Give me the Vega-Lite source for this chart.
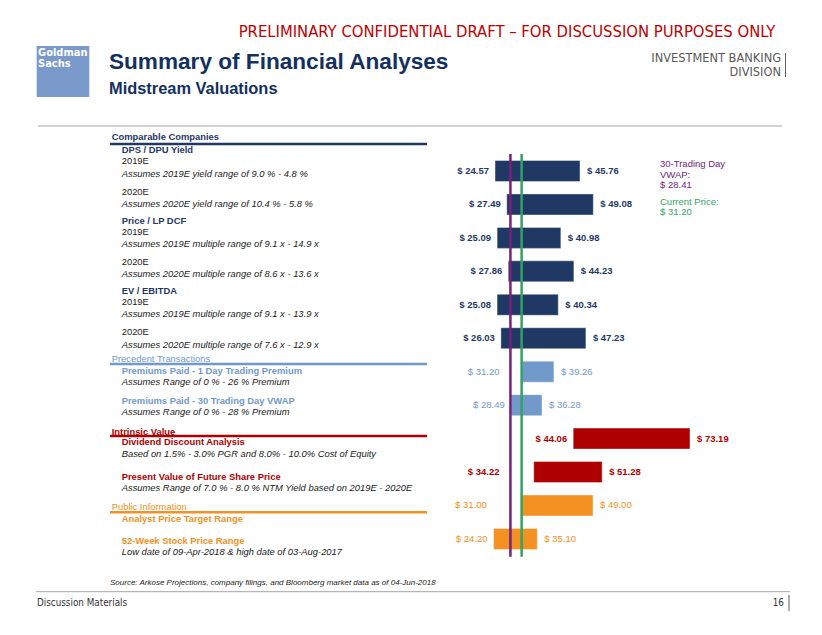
{
  "$schema": "https://vega.github.io/schema/vega-lite/v6.json",
  "width": 822,
  "height": 635,
  "autosize": "none",
  "padding": 0,
  "background": "#ffffff",
  "config": {"view": {"stroke": null}},
  "datasets": {
    "bars": [
      {"row": 1, "g": "comparable", "name": "DPS / DPU Yield 2019E", "low": 24.57, "high": 45.76},
      {"row": 2, "g": "comparable", "name": "DPS / DPU Yield 2020E", "low": 27.49, "high": 49.08},
      {"row": 3, "g": "comparable", "name": "Price / LP DCF 2019E", "low": 25.09, "high": 40.98},
      {"row": 4, "g": "comparable", "name": "Price / LP DCF 2020E", "low": 27.86, "high": 44.23},
      {"row": 5, "g": "comparable", "name": "EV / EBITDA 2019E", "low": 25.08, "high": 40.34},
      {"row": 6, "g": "comparable", "name": "EV / EBITDA 2020E", "low": 26.03, "high": 47.23},
      {"row": 7, "g": "precedent", "name": "Premiums Paid - 1 Day Trading Premium", "low": 31.20, "high": 39.26},
      {"row": 8, "g": "precedent", "name": "Premiums Paid - 30 Trading Day VWAP", "low": 28.49, "high": 36.28},
      {"row": 9, "g": "intrinsic", "name": "Dividend Discount Analysis", "low": 44.06, "high": 73.19},
      {"row": 10, "g": "intrinsic", "name": "Present Value of Future Share Price", "low": 34.22, "high": 51.28},
      {"row": 11, "g": "public", "name": "Analyst Price Target Range", "low": 31.00, "high": 49.00},
      {"row": 12, "g": "public", "name": "52-Week Stock Price Range", "low": 24.20, "high": 35.10}
    ],
    "refs": [
      {"label": "30-Trading Day VWAP", "value": 28.41, "g": "vwap"},
      {"label": "Current Price", "value": 31.20, "g": "current"}
    ],
    "shapes": [
      {"k": "logo", "g": "logo", "x": -89.73, "x2": -76.61, "y": -2.737, "y2": -1.212}
    ],
    "lines": [
      {"k": "hsec", "g": "comparable", "x": -71.45, "x2": 7.61, "y": 0.193},
      {"k": "hsec", "g": "precedent", "x": -71.45, "x2": 7.61, "y": 6.770},
      {"k": "hsec", "g": "intrinsic", "x": -71.45, "x2": 7.61, "y": 8.922},
      {"k": "hsec", "g": "public", "x": -71.45, "x2": 7.61, "y": 11.203},
      {"k": "hthin", "g": "rule", "x": -89.40, "x2": 96.13, "y": -0.345},
      {"k": "hthin", "g": "rule", "x": -89.90, "x2": 98.13, "y": 13.577},
      {"k": "vthin", "g": "gray", "x": 97.01, "y": -2.528, "y2": -1.810},
      {"k": "vthin", "g": "gray", "x": 97.88, "y": 13.675, "y2": 14.154}
    ],
    "texts": [
      {"s": "hdr", "g": "header", "x": 27.56, "y": -3.146, "t": "PRELIMINARY CONFIDENTIAL DRAFT – FOR DISCUSSION PURPOSES ONLY"},
      {"s": "title", "g": "title", "x": -71.70, "y": -2.268, "t": "Summary of Financial Analyses"},
      {"s": "subtitle", "g": "title", "x": -71.70, "y": -1.442, "t": "Midstream Valuations"},
      {"s": "ibd", "g": "gray", "x": 95.89, "y": -2.369, "t": "INVESTMENT BANKING"},
      {"s": "ibd", "g": "gray", "x": 95.89, "y": -1.951, "t": "DIVISION"},
      {"s": "logo", "g": "white", "x": -89.4, "y": -2.526, "t": "Goldman"},
      {"s": "logo", "g": "white", "x": -89.4, "y": -2.184, "t": "Sachs"},
      {"s": "h", "g": "comparable", "x": -71.02, "y": -0.025, "t": "Comparable Companies"},
      {"s": "h", "g": "comparable", "x": -68.53, "y": 0.363, "t": "DPS / DPU Yield"},
      {"s": "r", "g": "note", "x": -68.53, "y": 0.701, "t": "2019E"},
      {"s": "i", "g": "note", "x": -68.53, "y": 1.081, "t": "Assumes 2019E yield range of 9.0 % - 4.8 %"},
      {"s": "r", "g": "note", "x": -68.53, "y": 1.619, "t": "2020E"},
      {"s": "i", "g": "note", "x": -68.53, "y": 1.987, "t": "Assumes 2020E yield range of 10.4 % - 5.8 %"},
      {"s": "h", "g": "comparable", "x": -68.53, "y": 2.495, "t": "Price / LP DCF"},
      {"s": "r", "g": "note", "x": -68.53, "y": 2.814, "t": "2019E"},
      {"s": "i", "g": "note", "x": -68.53, "y": 3.173, "t": "Assumes 2019E multiple range of 9.1 x - 14.9 x"},
      {"s": "r", "g": "note", "x": -68.53, "y": 3.711, "t": "2020E"},
      {"s": "i", "g": "note", "x": -68.53, "y": 4.070, "t": "Assumes 2020E multiple range of 8.6 x - 13.6 x"},
      {"s": "h", "g": "comparable", "x": -68.53, "y": 4.588, "t": "EV / EBITDA"},
      {"s": "r", "g": "note", "x": -68.53, "y": 4.925, "t": "2019E"},
      {"s": "i", "g": "note", "x": -68.53, "y": 5.275, "t": "Assumes 2019E multiple range of 9.1 x - 13.9 x"},
      {"s": "r", "g": "note", "x": -68.53, "y": 5.822, "t": "2020E"},
      {"s": "i", "g": "note", "x": -68.53, "y": 6.202, "t": "Assumes 2020E multiple range of 7.6 x - 12.9 x"},
      {"s": "r", "g": "precedent", "x": -71.02, "y": 6.630, "t": "Precedent Transactions"},
      {"s": "h", "g": "precedent", "x": -68.53, "y": 6.970, "t": "Premiums Paid - 1 Day Trading Premium"},
      {"s": "i", "g": "note", "x": -68.53, "y": 7.317, "t": "Assumes Range of 0 % -  26 % Premium"},
      {"s": "h", "g": "precedent", "x": -68.53, "y": 7.867, "t": "Premiums Paid - 30 Trading Day VWAP"},
      {"s": "i", "g": "note", "x": -68.53, "y": 8.214, "t": "Assumes Range of 0 % -  28 % Premium"},
      {"s": "h", "g": "intrinsic", "x": -71.02, "y": 8.794, "t": "Intrinsic Value"},
      {"s": "h", "g": "intrinsic", "x": -68.53, "y": 9.111, "t": "Dividend Discount Analysis"},
      {"s": "i", "g": "note", "x": -68.53, "y": 9.470, "t": "Based on 1.5% - 3.0% PGR and 8.0% - 10.0% Cost of Equity"},
      {"s": "h", "g": "intrinsic", "x": -68.53, "y": 10.148, "t": "Present Value of Future Share Price"},
      {"s": "i", "g": "note", "x": -68.53, "y": 10.486, "t": "Assumes Range of 7.0 % -  8.0 % NTM Yield based on 2019E - 2020E"},
      {"s": "r", "g": "public", "x": -71.02, "y": 11.054, "t": "Public Information"},
      {"s": "h", "g": "public", "x": -68.53, "y": 11.395, "t": "Analyst Price Target Range"},
      {"s": "h", "g": "public", "x": -68.53, "y": 12.061, "t": "52-Week Stock Price Range"},
      {"s": "i", "g": "note", "x": -68.53, "y": 12.399, "t": "Low date of 09-Apr-2018 & high date of 03-Aug-2017"},
      {"s": "src", "g": "note", "x": -71.45, "y": 13.308, "t": "Source: Arkose Projections, company filings, and Bloomberg market data as of 04-Jun-2018"},
      {"s": "foot", "g": "foot", "x": -89.65, "y": 13.924, "t": "Discussion Materials"},
      {"s": "footr", "g": "foot", "x": 96.63, "y": 13.924, "t": "16"},
      {"s": "ann", "g": "vwap", "x": 65.71, "y": 0.791, "t": "30-Trading Day"},
      {"s": "ann", "g": "vwap", "x": 65.71, "y": 1.120, "t": "VWAP:"},
      {"s": "ann", "g": "vwap", "x": 65.71, "y": 1.428, "t": "$ 28.41"},
      {"s": "ann", "g": "current", "x": 65.71, "y": 1.918, "t": "Current Price:"},
      {"s": "ann", "g": "current", "x": 65.71, "y": 2.235, "t": "$ 31.20"}
    ]
  },
  "encoding": {
    "x": {"field": "x", "type": "quantitative", "scale": {"domain": [-98.88, 106.11], "nice": false, "zero": false, "padding": 0}, "axis": null},
    "y": {"field": "y", "type": "quantitative", "scale": {"domain": [-4.112, 14.872], "reverse": true, "nice": false, "zero": false, "padding": 0}, "axis": null},
    "color": {"field": "g", "type": "nominal", "legend": null, "scale": {
      "domain": ["comparable", "precedent", "intrinsic", "public", "note", "vwap", "current", "header", "title", "gray", "white", "logo", "rule", "foot"],
      "range": ["#1F3864", "#7199C9", "#AE0000", "#F39123", "#1A1A1A", "#74227A", "#34A165", "#C00000", "#14305F", "#595959", "#FFFFFF", "#7A9ACC", "#A6A6A6", "#333333"]}}
  },
  "layer": [
    {
      "data": {"name": "shapes"},
      "mark": {"type": "rect"},
      "encoding": {"x2": {"field": "x2"}, "y2": {"field": "y2"}}
    },
    {
      "data": {"name": "bars"},
      "mark": {"type": "bar", "orient": "horizontal", "size": 21, "stroke": "#ffffff", "strokeOpacity": 0.4, "strokeWidth": 1},
      "encoding": {
        "x": {"field": "low", "type": "quantitative"},
        "x2": {"field": "high"},
        "y": {"field": "row", "type": "quantitative"}
      }
    },
    {
      "data": {"name": "refs"},
      "transform": [
        {"calculate": "0.492", "as": "top"},
        {"calculate": "12.531", "as": "bottom"}
      ],
      "mark": {"type": "rule", "strokeWidth": 2.5},
      "encoding": {
        "x": {"field": "value", "type": "quantitative"},
        "y": {"field": "top", "type": "quantitative"},
        "y2": {"field": "bottom"}
      }
    },
    {
      "data": {"name": "lines"},
      "transform": [{"filter": "datum.k == 'hsec'"}],
      "mark": {"type": "rule", "strokeWidth": 2.5},
      "encoding": {"x2": {"field": "x2"}}
    },
    {
      "data": {"name": "lines"},
      "transform": [{"filter": "datum.k == 'hthin'"}],
      "mark": {"type": "rule", "strokeWidth": 1},
      "encoding": {"x2": {"field": "x2"}}
    },
    {
      "data": {"name": "lines"},
      "transform": [{"filter": "datum.k == 'vthin'"}],
      "mark": {"type": "rule", "strokeWidth": 1},
      "encoding": {"y2": {"field": "y2"}}
    },
    {
      "data": {"name": "bars"},
      "transform": [
        {"filter": "datum.g == 'comparable' || datum.g == 'intrinsic'"},
        {"calculate": "'$ ' + format(datum.low, '.2f')", "as": "lt"},
        {"calculate": "(datum.low > 29 && datum.low < 37) ? (datum.g == 'public' ? 24.0 : 27.2) : datum.low", "as": "lx"}
      ],
      "mark": {"type": "text", "align": "right", "baseline": "middle", "dx": -6, "font": "Liberation Sans", "fontSize": 9.5, "fontWeight": "bold"},
      "encoding": {"x": {"field": "lx", "type": "quantitative"}, "y": {"field": "row", "type": "quantitative"}, "text": {"field": "lt"}}
    },
    {
      "data": {"name": "bars"},
      "transform": [
        {"filter": "datum.g == 'precedent' || datum.g == 'public'"},
        {"calculate": "'$ ' + format(datum.low, '.2f')", "as": "lt"},
        {"calculate": "(datum.low > 29 && datum.low < 37) ? (datum.g == 'public' ? 24.0 : 27.2) : datum.low", "as": "lx"}
      ],
      "mark": {"type": "text", "align": "right", "baseline": "middle", "dx": -6, "font": "Liberation Sans", "fontSize": 9.5},
      "encoding": {"x": {"field": "lx", "type": "quantitative"}, "y": {"field": "row", "type": "quantitative"}, "text": {"field": "lt"}}
    },
    {
      "data": {"name": "bars"},
      "transform": [
        {"filter": "datum.g == 'comparable' || datum.g == 'intrinsic'"},
        {"calculate": "'$ ' + format(datum.high, '.2f')", "as": "ht"}
      ],
      "mark": {"type": "text", "align": "left", "baseline": "middle", "dx": 7, "font": "Liberation Sans", "fontSize": 9.5, "fontWeight": "bold"},
      "encoding": {"x": {"field": "high", "type": "quantitative"}, "y": {"field": "row", "type": "quantitative"}, "text": {"field": "ht"}}
    },
    {
      "data": {"name": "bars"},
      "transform": [
        {"filter": "datum.g == 'precedent' || datum.g == 'public'"},
        {"calculate": "'$ ' + format(datum.high, '.2f')", "as": "ht"}
      ],
      "mark": {"type": "text", "align": "left", "baseline": "middle", "dx": 7, "font": "Liberation Sans", "fontSize": 9.5},
      "encoding": {"x": {"field": "high", "type": "quantitative"}, "y": {"field": "row", "type": "quantitative"}, "text": {"field": "ht"}}
    },
    {
      "data": {"name": "texts"},
      "transform": [{"filter": "datum.s == 'hdr'"}],
      "mark": {"type": "text", "align": "center", "baseline": "middle", "font": "DejaVu Sans Condensed, sans-serif", "fontSize": 16.5},
      "encoding": {"text": {"field": "t"}}
    },
    {
      "data": {"name": "texts"},
      "transform": [{"filter": "datum.s == 'title'"}],
      "mark": {"type": "text", "align": "left", "baseline": "middle", "font": "Liberation Sans", "fontSize": 22.6, "fontWeight": "bold"},
      "encoding": {"text": {"field": "t"}}
    },
    {
      "data": {"name": "texts"},
      "transform": [{"filter": "datum.s == 'subtitle'"}],
      "mark": {"type": "text", "align": "left", "baseline": "middle", "font": "Liberation Sans", "fontSize": 16.4, "fontWeight": "bold"},
      "encoding": {"text": {"field": "t"}}
    },
    {
      "data": {"name": "texts"},
      "transform": [{"filter": "datum.s == 'ibd'"}],
      "mark": {"type": "text", "align": "right", "baseline": "middle", "font": "DejaVu Sans Condensed, sans-serif", "fontSize": 12.7},
      "encoding": {"text": {"field": "t"}}
    },
    {
      "data": {"name": "texts"},
      "transform": [{"filter": "datum.s == 'logo'"}],
      "mark": {"type": "text", "align": "left", "baseline": "middle", "font": "DejaVu Sans Condensed, sans-serif", "fontSize": 11, "fontWeight": "bold"},
      "encoding": {"text": {"field": "t"}}
    },
    {
      "data": {"name": "texts"},
      "transform": [{"filter": "datum.s == 'h'"}],
      "mark": {"type": "text", "align": "left", "baseline": "middle", "font": "Liberation Sans", "fontSize": 9.4, "fontWeight": "bold"},
      "encoding": {"text": {"field": "t"}}
    },
    {
      "data": {"name": "texts"},
      "transform": [{"filter": "datum.s == 'r'"}],
      "mark": {"type": "text", "align": "left", "baseline": "middle", "font": "Liberation Sans", "fontSize": 9.4},
      "encoding": {"text": {"field": "t"}}
    },
    {
      "data": {"name": "texts"},
      "transform": [{"filter": "datum.s == 'i'"}],
      "mark": {"type": "text", "align": "left", "baseline": "middle", "font": "Liberation Sans", "fontSize": 9.4, "fontStyle": "italic"},
      "encoding": {"text": {"field": "t"}}
    },
    {
      "data": {"name": "texts"},
      "transform": [{"filter": "datum.s == 'src'"}],
      "mark": {"type": "text", "align": "left", "baseline": "middle", "font": "Liberation Sans", "fontSize": 8, "fontStyle": "italic"},
      "encoding": {"text": {"field": "t"}}
    },
    {
      "data": {"name": "texts"},
      "transform": [{"filter": "datum.s == 'foot'"}],
      "mark": {"type": "text", "align": "left", "baseline": "middle", "font": "DejaVu Sans Condensed, sans-serif", "fontSize": 9.8},
      "encoding": {"text": {"field": "t"}}
    },
    {
      "data": {"name": "texts"},
      "transform": [{"filter": "datum.s == 'footr'"}],
      "mark": {"type": "text", "align": "right", "baseline": "middle", "font": "DejaVu Sans Condensed, sans-serif", "fontSize": 9.8},
      "encoding": {"text": {"field": "t"}}
    },
    {
      "data": {"name": "texts"},
      "transform": [{"filter": "datum.s == 'ann'"}],
      "mark": {"type": "text", "align": "left", "baseline": "middle", "font": "Liberation Sans", "fontSize": 9.5},
      "encoding": {"text": {"field": "t"}}
    }
  ]
}
